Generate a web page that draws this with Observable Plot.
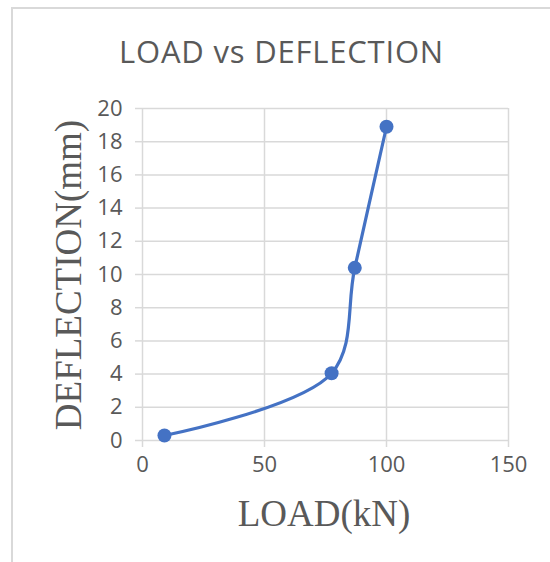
<!DOCTYPE html>
<html>
<head>
<meta charset="utf-8">
<script src="https://cdn.jsdelivr.net/npm/d3@7"></script>
<script src="https://cdn.jsdelivr.net/npm/@observablehq/plot@0.6"></script>
<style>
  html, body { margin: 0; padding: 0; background: #fff; }
  #wrap { position: relative; width: 550px; height: 562px; overflow: hidden; }
  #frame { position: absolute; left: 11px; top: 7px; width: 600px; height: 600px;
           border-left: 2px solid #d9d9d9; border-top: 2px solid #d9d9d9; }
  #chart { position: absolute; left: 0; top: 0; }
  .ttl { position: absolute; white-space: nowrap; color: #595959; }
  #title { font-family: "Open Sans", sans-serif; font-size: 31px; left: 0; width: 563px; text-align: center; top: 30px; letter-spacing: 0.8px; }
  #xlab { font-family: "Liberation Serif", serif; font-size: 37px; left: 0; width: 648px; text-align: center; top: 492px; }
  #ylab { font-family: "Liberation Serif", serif; font-size: 37px; left: 68px; top: 275px; transform: translate(-50%, -50%) rotate(-90deg); }
  svg [aria-label="x-axis tick"], svg [aria-label="y-axis tick"] { stroke: #d9d9d9; stroke-width: 1.5px; }
</style>
</head>
<body>
<div id="wrap">
  <div id="frame"></div>
  <div id="chart"></div>
  <div class="ttl" id="title">LOAD vs DEFLECTION</div>
  <div class="ttl" id="ylab">DEFLECTION(mm)</div>
  <div class="ttl" id="xlab">LOAD(kN)</div>
</div>
<script>
const load = [9, 77.5, 87, 100];
const deflection = [0.3, 4.05, 10.4, 18.9];
const xTicks = [0, 50, 100, 150];
const yTicks = [0, 2, 4, 6, 8, 10, 12, 14, 16, 18, 20];

const data = load.map((x, i) => ({x, y: deflection[i]}));

const plot = Plot.plot({
  width: 550,
  height: 562,
  marginLeft: 142,
  marginRight: 42,
  marginTop: 108,
  marginBottom: 122,
  style: { fontFamily: "'Open Sans', sans-serif", fontSize: "22px", color: "#595959", background: "transparent" },
  x: { domain: [0, 150], ticks: xTicks, label: null },
  y: { domain: [0, 20], ticks: yTicks, label: null },
  marks: [
    Plot.gridX(xTicks, { stroke: "#d9d9d9", strokeOpacity: 1, strokeWidth: 1.5 }),
    Plot.gridY(yTicks, { stroke: "#d9d9d9", strokeOpacity: 1, strokeWidth: 1.5 }),
    Plot.axisX(xTicks, { tickSize: 7, tickPadding: 9, fontSize: 22 }),
    Plot.axisY(yTicks, { tickSize: 7, tickPadding: 13, fontSize: 22 }),
    Plot.line(data, { x: "x", y: "y", stroke: "#4472C4", strokeWidth: 3.2, curve: "catmull-rom" }),
    Plot.dot(data, { x: "x", y: "y", r: 7, fill: "#4472C4", stroke: "none" })
  ]
});
document.getElementById("chart").appendChild(plot);
</script>
</body>
</html>
